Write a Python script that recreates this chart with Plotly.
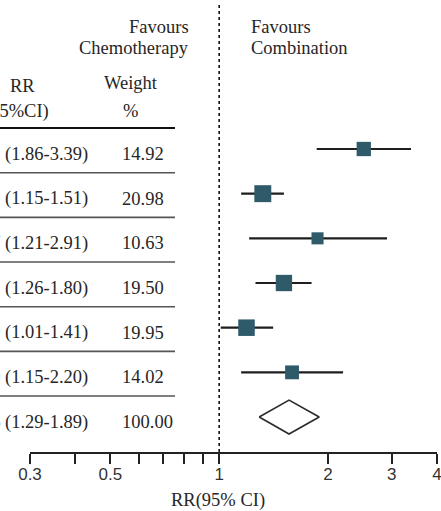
import math

import plotly.graph_objects as go

# data, top row first; last row is the pooled estimate
rr = [2.51, 1.32, 1.87, 1.51, 1.19, 1.59, 1.56]
ci_low = [1.86, 1.15, 1.21, 1.26, 1.01, 1.15, 1.29]
ci_high = [3.39, 1.51, 2.91, 1.80, 1.41, 2.20, 1.89]
weight = [14.92, 20.98, 10.63, 19.50, 19.95, 14.02, 100.00]

tick_vals = [0.3, 0.4, 0.5, 0.6, 0.7, 0.8, 0.9, 1, 2, 3, 4]
tick_text = ["0.3", "", "0.5", "", "", "", "", "1", "2", "3", "4"]

W, H = 441, 511
SERIF = "Liberation Serif, Times New Roman, serif"
TXT = "#262626"
SQ = "#2f5a6a"
FS = 18.5

n = len(rr)
rows = list(range(n))
study_rows = rows[:-1]
pool = rows[-1]

# pixel helpers for the layout (row index -> pixel: 149 + 44.67*i)
axis_px = 452
row0_px, row_h = 149, 44.67
y_top = (0 - row0_px) / row_h
y_bot = (axis_px - row0_px) / row_h


def px(x):
    return x / W


fig = go.Figure()

# confidence interval lines
ci_x, ci_y = [], []
for i in study_rows:
    ci_x += [ci_low[i], ci_high[i], None]
    ci_y += [i, i, None]
fig.add_trace(go.Scatter(x=ci_x, y=ci_y, mode="lines",
                         line=dict(color="#1e1e1e", width=2.2),
                         hoverinfo="skip", showlegend=False))

# weighted squares
fig.add_trace(go.Scatter(
    x=[rr[i] for i in study_rows], y=study_rows, mode="markers",
    marker=dict(symbol="square", color=SQ, opacity=1,
                size=[3.7 * math.sqrt(weight[i]) for i in study_rows],
                line=dict(width=0)),
    showlegend=False))

# pooled diamond
h = 0.38
fig.add_trace(go.Scatter(
    x=[ci_low[pool], rr[pool], ci_high[pool], rr[pool], ci_low[pool]],
    y=[pool, pool - h, pool, pool + h, pool],
    mode="lines", fill="toself", fillcolor="white",
    line=dict(color="#2a2a2a", width=1.6), showlegend=False))

shapes = [
    dict(type="line", xref="x", yref="paper", x0=1, x1=1,
         y0=(H - axis_px) / H, y1=1 - 4 / H,
         line=dict(color="#111", width=1.6, dash="dot")),
]
# table rules: header line then one under each row
for k, i in enumerate([-1] + rows[:-1]):
    shapes.append(dict(type="line", xref="paper", yref="y",
                       x0=0, x1=px(175), y0=i + 0.53, y1=i + 0.53,
                       line=dict(color="#111" if k == 0 else "#555",
                                 width=2 if k == 0 else 1.6)))

annotations = []
for i in rows:
    annotations.append(dict(
        text=f"{rr[i]:.2f} ({ci_low[i]:.2f}-{ci_high[i]:.2f})",
        xref="paper", yref="y", x=px(90), y=i, yshift=-5,
        xanchor="right", yanchor="middle", showarrow=False,
        font=dict(family=SERIF, size=FS, color=TXT)))
    annotations.append(dict(
        text=f"{weight[i]:.2f}", xref="paper", yref="y", x=px(120), y=i,
        yshift=-5, xanchor="left", yanchor="middle", showarrow=False,
        font=dict(family=SERIF, size=FS, color=TXT)))


def label(text, x, y, anchor="center"):
    annotations.append(dict(
        text=text, xref="paper", yref="paper", x=px(x), y=1 - y / H,
        xanchor=anchor, yanchor="middle", showarrow=False,
        font=dict(family=SERIF, size=FS, color=TXT)))


label("Favours", 191, 27, "right")
label("Chemotherapy", 191, 48, "right")
label("Favours", 249, 27, "left")
label("Combination", 249, 48, "left")
label("RR", 22, 86)
label("(95%CI)", 51, 111, "right")
label("Weight", 131, 83)
label("%", 130, 111)
label("RR(95% CI)", 218, 500)

fig.update_layout(
    width=W, height=H,
    margin=dict(l=0, r=0, t=0, b=0, autoexpand=False),
    paper_bgcolor="white", plot_bgcolor="white",
    showlegend=False,
    shapes=shapes, annotations=annotations,
    xaxis=dict(
        type="log", domain=[px(30), px(437)],
        range=[math.log10(0.3), math.log10(4)],
        tickvals=tick_vals, ticktext=tick_text,
        ticks="outside", ticklen=10, tickwidth=2, tickcolor="#222",
        showline=True, linecolor="#222", linewidth=2,
        showgrid=False, zeroline=False, automargin=False,
        ticklabeloverflow="allow", ticklabelstandoff=-4,
        tickfont=dict(family="Liberation Sans, Arial, sans-serif", size=17, color="#333"),
    ),
    yaxis=dict(
        domain=[(H - axis_px) / H, 1],
        range=[y_bot, y_top], automargin=False,
        visible=False, showgrid=False, zeroline=False,
    ),
)

fig.write_html("out.html", config={"displayModeBar": False},
               post_script="document.body.style.margin = '0';")
